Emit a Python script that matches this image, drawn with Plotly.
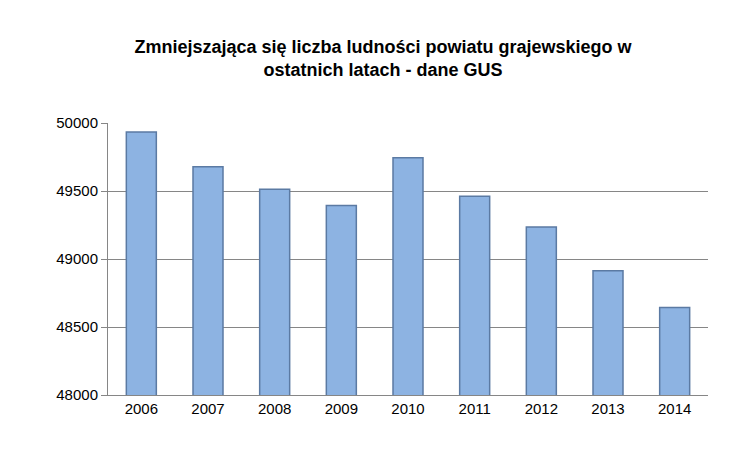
import plotly.graph_objects as go

years = ["2006", "2007", "2008", "2009", "2010", "2011", "2012", "2013", "2014"]
population = [49933, 49678, 49513, 49393, 49745, 49461, 49236, 48914, 48644]

fig = go.Figure()
fig.add_trace(go.Bar(
    x=years, y=population, base=0,
    marker=dict(color="#8DB3E2", line=dict(color="#5B7AA3", width=1.5)),
    width=0.45,
))

fig.update_layout(
    width=750, height=450,
    paper_bgcolor="white", plot_bgcolor="white",
    title=dict(
        text="<b>Zmniejszająca się liczba ludności powiatu grajewskiego w<br>ostatnich latach - dane GUS</b>",
        x=0.5, y=0.9, xanchor="center", font=dict(family="Liberation Sans", size=18, color="black"),
    ),
    font=dict(family="Liberation Sans", size=15, color="black"),
    margin=dict(l=100, r=50, t=115, b=63),
    showlegend=False,
    xaxis=dict(showline=True, linecolor="#868686", ticks="", showgrid=False),
    yaxis=dict(range=[48000, 50000], dtick=500, showgrid=True, gridcolor="#868686",
               showline=True, linecolor="#868686", ticks="outside", ticklen=6,
               tickcolor="#868686", tickformat="d"),
)

fig.write_html("out.html")
